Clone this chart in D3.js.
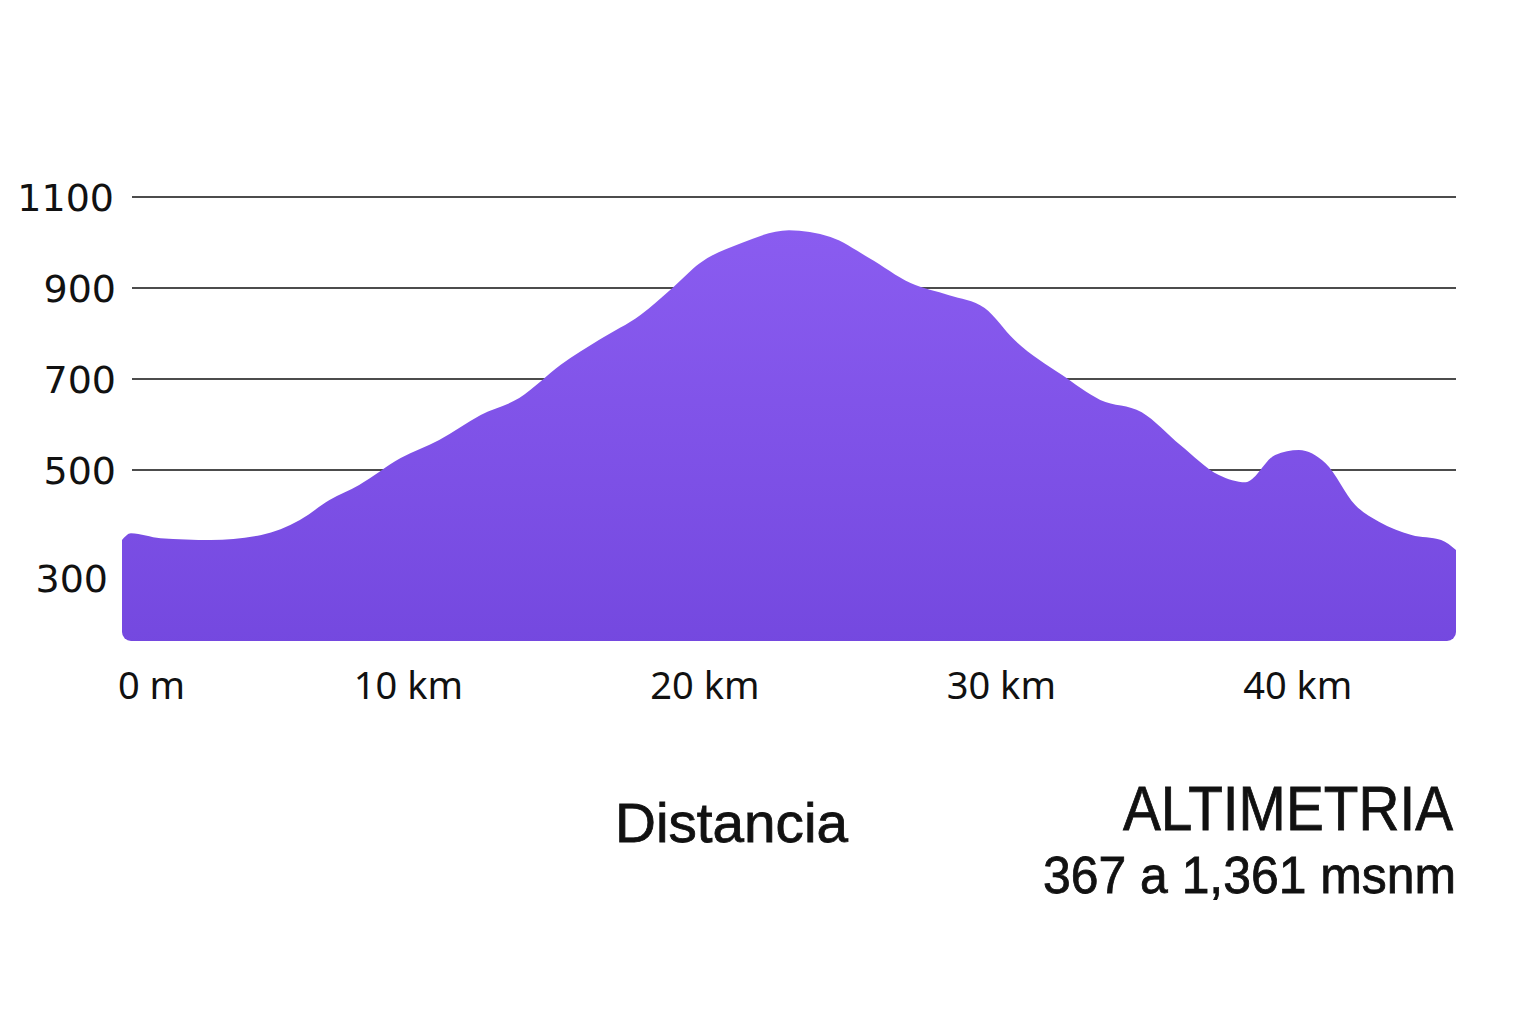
<!DOCTYPE html>
<html>
<head>
<meta charset="utf-8">
<script src="https://cdn.jsdelivr.net/npm/d3@7"></script>
<style>
  body { margin: 0; background: #fff; }
  svg { display: block; }
</style>
</head>
<body>
<svg id="chart" width="1536" height="1024"></svg>
<script>
// distance in km, elevation in m
var distances = [0, 0.3, 1.3, 3.0, 4.7, 6.0, 7.0, 8.0, 9.4, 10.7, 12.1, 13.4, 14.8, 16.1, 17.5, 18.5, 19.5, 20.9, 22.5, 23.9, 25.2, 26.6, 27.9, 29.1, 30.1, 31.7, 33.0, 34.4, 35.7, 37.0, 37.9, 38.9, 39.7, 40.6, 41.6, 42.4, 43.5, 44.5, 45];
var elevations = [346, 361, 350, 346, 357, 390, 434, 467, 526, 566, 621, 658, 731, 786, 841, 896, 955, 999, 1027, 1012, 966, 911, 884, 856, 786, 709, 654, 627, 555, 489, 473, 533, 544, 515, 423, 386, 357, 346, 324];
var gridValues = [1100, 900, 700, 500];
var yTickValues = [1100, 900, 700, 500, 300];
var xTickValues = [0, 10, 20, 30, 40];
var xTickLabels = ["0 m", "10 km", "20 km", "30 km", "40 km"];

var data = distances.map(function (d, i) { return { km: d, m: elevations[i] }; });

var svg = d3.select('#chart');
var left = 122, right = 1456, bottom = 641;

var x = d3.scaleLinear().domain([0, 45]).range([left, right]);
var y = d3.scaleLinear().domain([124, 1100]).range([bottom, 197]);

var defs = svg.append('defs');
var grad = defs.append('linearGradient')
    .attr('id', 'fill')
    .attr('x1', 0).attr('y1', 0).attr('x2', 0).attr('y2', 1);
grad.append('stop').attr('offset', '0%').attr('stop-color', '#8a5cf0');
grad.append('stop').attr('offset', '100%').attr('stop-color', '#7448df');

defs.append('clipPath').attr('id', 'clip')
    .append('rect')
    .attr('x', left).attr('y', 0)
    .attr('width', right - left).attr('height', bottom)
    .attr('rx', 9);

// gridlines
svg.append('g').selectAll('line')
    .data(gridValues)
    .enter().append('line')
    .attr('x1', 132).attr('x2', right)
    .attr('y1', function (d) { return y(d); })
    .attr('y2', function (d) { return y(d); })
    .attr('stroke', '#111')
    .attr('stroke-width', 1.6);

var area = d3.area()
    .x(function (d) { return x(d.km); })
    .y0(bottom + 10)
    .y1(function (d) { return y(d.m); })
    .curve(d3.curveMonotoneX);

svg.append('path')
    .datum(data)
    .attr('d', area)
    .attr('fill', 'url(#fill)')
    .attr('clip-path', 'url(#clip)');

// y labels
svg.append('g').selectAll('text')
    .data(yTickValues)
    .enter().append('text')
    .attr('x', function (d) { return d === 1100 ? 114 : d === 300 ? 108 : 116; })
    .attr('y', function (d) { return y(d) + (gridValues.indexOf(d) < 0 ? 17 : 0); })
    .attr('dy', '0.36em')
    .attr('text-anchor', 'end')
    .style('font-family', 'DejaVu Sans')
    .style('font-size', '38px')
    .attr('fill', '#111')
    .text(function (d) { return d; });

// x labels
svg.append('g').selectAll('text')
    .data(xTickValues)
    .enter().append('text')
    .attr('x', function (d, i) { return i === 0 ? x(d) - 4 : x(d) - 10; })
    .attr('y', 699)
    .attr('text-anchor', function (d, i) { return i === 0 ? 'start' : 'middle'; })
    .style('font-family', 'Noto Sans')
    .style('font-size', '38px')
    .attr('fill', '#111')
    .text(function (d, i) { return xTickLabels[i]; });

svg.append('text')
    .attr('x', 615).attr('y', 842)
    .attr('textLength', 233).attr('lengthAdjust', 'spacingAndGlyphs')
    .style('font-family', 'Liberation Sans')
    .style('font-size', '56px')
    .attr('fill', '#111')
    .attr('stroke', '#111').attr('stroke-width', 0.8)
    .text('Distancia');

svg.append('text')
    .attr('x', 1123).attr('y', 830)
    .attr('textLength', 330).attr('lengthAdjust', 'spacingAndGlyphs')
    .style('font-family', 'Liberation Sans')
    .style('font-size', '63px')
    .attr('fill', '#111')
    .attr('stroke', '#111').attr('stroke-width', 0.8)
    .text('ALTIMETRIA');

svg.append('text')
    .attr('x', 1043).attr('y', 893)
    .attr('textLength', 413).attr('lengthAdjust', 'spacingAndGlyphs')
    .style('font-family', 'Liberation Sans')
    .style('font-size', '52px')
    .attr('fill', '#111')
    .attr('stroke', '#111').attr('stroke-width', 0.8)
    .text('367 a 1,361 msnm');
</script>
</body>
</html>
